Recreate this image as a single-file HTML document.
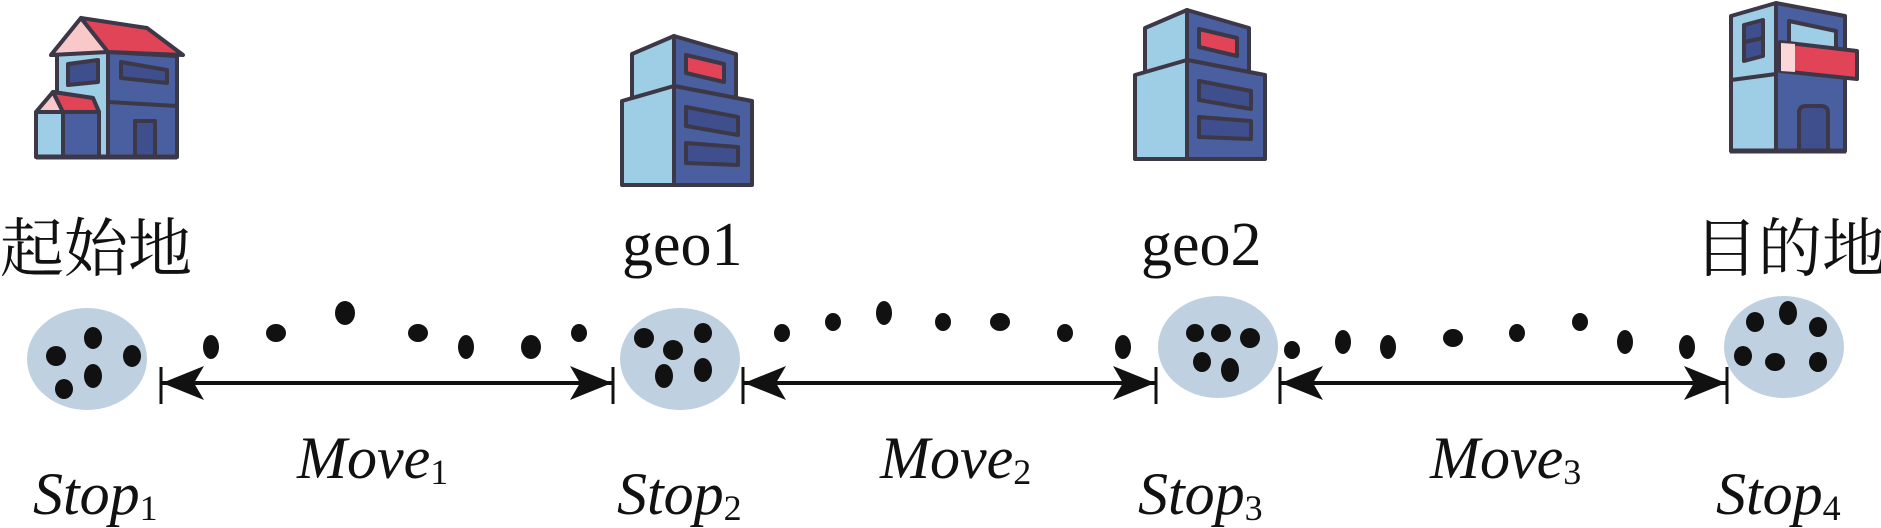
<!DOCTYPE html>
<html><head><meta charset="utf-8"><style>
html,body{margin:0;padding:0;background:#fff;}
body{width:1881px;height:521px;overflow:hidden;position:relative;}
.t{position:absolute;font-family:"Liberation Serif","Noto Serif CJK SC",serif;color:#111;white-space:nowrap;line-height:1;}
.i{font-family:"Liberation Serif","DejaVu Serif",serif;font-style:italic;font-size:60px;}
.i sub{font-style:normal;font-size:36px;vertical-align:baseline;position:relative;top:6px;}
.c{font-family:"Liberation Serif","Noto Serif CJK SC","Noto Sans CJK SC",serif;font-size:64px;}
.g{font-size:62px;}
</style></head><body>
<svg width="1881" height="521" style="position:absolute;left:0;top:0" xmlns="http://www.w3.org/2000/svg">
<defs>
<marker id="ah" viewBox="0 0 42 34" refX="42" refY="17" markerWidth="42" markerHeight="34" markerUnits="userSpaceOnUse" orient="auto-start-reverse">
<path d="M0,0 L42,17 L0,34 L10,17 Z" fill="#111"/></marker>
<g id="tower" stroke="#3d3848" stroke-width="4" stroke-linejoin="round">
<polygon points="632,54 674,36 674,90 632,103" fill="#9ecde6"/>
<polygon points="674,36 736,54 736,98 674,86" fill="#4a5f9f"/>
<polygon points="686,55 724,64 724,82 686,73" fill="#e24457"/>
<polygon points="622,101 674,86 674,185 622,185" fill="#9ecde6"/>
<polygon points="674,86 752,101 752,185 674,185" fill="#4a5f9f"/>
<polygon points="686,107 738,117 738,135 686,126" fill="#3f4e8c"/>
<polygon points="686,143 738,147 738,165 686,163" fill="#3f4e8c"/>
</g>
</defs>
<g stroke="#3d3848" stroke-width="4" stroke-linejoin="round">
<polygon points="51,55 81,18 108,52 108,157 57,157 57,55" fill="#9ecde6"/>
<polygon points="108,52 177,56 177,157 108,157" fill="#4a5f9f"/>
<polygon points="51,55 81,18 108,52" fill="#f9c9c9"/>
<polygon points="81,18 147,28 183,55 108,52" fill="#e24457"/>
<polygon points="68,64 98,60 98,82 68,85" fill="#3f4e8c"/>
<polygon points="121,62 167,70 167,83 121,78" fill="#3f4e8c"/>
<line x1="108" y1="102" x2="177" y2="106"/>
<polygon points="36,112 53,92 93,98 99,112 99,157 36,157" fill="#9ecde6"/>
<polygon points="63,112 99,112 99,157 63,157" fill="#4a5f9f"/>
<polygon points="36,112 53,92 63,112" fill="#f9c9c9"/>
<polygon points="53,92 93,98 99,112 63,112" fill="#e24457"/>
<rect x="135" y="121" width="20" height="36" fill="#3f4e8c"/>
<line x1="36" y1="157" x2="177" y2="157" stroke-width="5"/>
</g>
<use href="#tower"/>
<use href="#tower" transform="translate(513,-26)"/>
<g stroke="#3d3848" stroke-width="4" stroke-linejoin="round">
<polygon points="1731,16 1776,3 1776,151 1731,151" fill="#9ecde6"/>
<polygon points="1776,3 1845,16 1845,151 1776,151" fill="#4a5f9f"/>
<line x1="1731" y1="80" x2="1776" y2="74"/>
<polygon points="1744,25 1763,20 1763,56 1744,61" fill="#3f4e8c"/>
<line x1="1744" y1="42" x2="1763" y2="38"/>
<polygon points="1789,21 1836,31 1836,50 1789,44" fill="#9ecde6"/>
<polygon points="1780,42 1857,51 1857,79 1780,71" fill="#e24457"/>
<polygon points="1781,43 1795,44 1795,72 1781,71" fill="#fbd7d7" stroke="none"/>
<path d="M1799,151 L1799,113 Q1799,106 1806,106 L1821,106 Q1828,106 1828,113 L1828,151" fill="#3f4e8c"/>
<line x1="1730" y1="151" x2="1846" y2="151" stroke-width="5"/>
</g>
<g fill="#bfd1e0">
<ellipse cx="87" cy="359" rx="60" ry="51"/>
<ellipse cx="680" cy="359" rx="60" ry="51"/>
<ellipse cx="1218" cy="347" rx="60" ry="51"/>
<ellipse cx="1784" cy="347" rx="60" ry="51"/>
</g>
<g fill="#111">
<ellipse cx="93" cy="338" rx="9" ry="11"/><ellipse cx="56" cy="356" rx="10" ry="10"/><ellipse cx="132" cy="356" rx="9" ry="11"/><ellipse cx="93" cy="376" rx="9" ry="12"/><ellipse cx="64" cy="389" rx="9" ry="10"/>
<ellipse cx="644" cy="338" rx="10" ry="10"/><ellipse cx="703" cy="333" rx="9" ry="10"/><ellipse cx="673" cy="350" rx="10" ry="10"/><ellipse cx="664" cy="376" rx="9" ry="12"/><ellipse cx="703" cy="370" rx="9" ry="12"/>
<ellipse cx="1195" cy="333" rx="9" ry="9"/><ellipse cx="1221" cy="333" rx="10" ry="9"/><ellipse cx="1250" cy="338" rx="10" ry="10"/><ellipse cx="1202" cy="362" rx="9" ry="10"/><ellipse cx="1230" cy="370" rx="9" ry="12"/>
<ellipse cx="1755" cy="322" rx="9" ry="10"/><ellipse cx="1788" cy="313" rx="9" ry="12"/><ellipse cx="1818" cy="327" rx="9" ry="10"/><ellipse cx="1743" cy="356" rx="9" ry="10"/><ellipse cx="1775" cy="362" rx="10" ry="9"/><ellipse cx="1818" cy="362" rx="9" ry="10"/>
<ellipse cx="211" cy="347" rx="8" ry="12"/><ellipse cx="276" cy="333" rx="10" ry="9"/><ellipse cx="345" cy="313" rx="10" ry="12"/><ellipse cx="418" cy="333" rx="10" ry="9"/><ellipse cx="466" cy="347" rx="8" ry="12"/><ellipse cx="531" cy="347" rx="10" ry="12"/><ellipse cx="579" cy="333" rx="8" ry="9"/>
<ellipse cx="782" cy="333" rx="8" ry="9"/><ellipse cx="833" cy="322" rx="8" ry="9"/><ellipse cx="884" cy="313" rx="8" ry="12"/><ellipse cx="943" cy="322" rx="8" ry="9"/><ellipse cx="1000" cy="322" rx="10" ry="9"/><ellipse cx="1065" cy="333" rx="8" ry="9"/><ellipse cx="1123" cy="347" rx="8" ry="12"/>
<ellipse cx="1292" cy="350" rx="8" ry="9"/><ellipse cx="1343" cy="342" rx="8" ry="12"/><ellipse cx="1388" cy="347" rx="8" ry="12"/><ellipse cx="1453" cy="338" rx="10" ry="9"/><ellipse cx="1517" cy="333" rx="8" ry="9"/><ellipse cx="1580" cy="322" rx="8" ry="9"/><ellipse cx="1625" cy="342" rx="8" ry="12"/><ellipse cx="1687" cy="347" rx="8" ry="12"/>
</g>
<g stroke="#111" stroke-width="4">
<line x1="161" y1="367" x2="161" y2="404" stroke-width="3"/><line x1="613" y1="367" x2="613" y2="404" stroke-width="3"/>
<line x1="743" y1="367" x2="743" y2="404" stroke-width="3"/><line x1="1156" y1="367" x2="1156" y2="404" stroke-width="3"/>
<line x1="1280" y1="367" x2="1280" y2="404" stroke-width="3"/><line x1="1727" y1="367" x2="1727" y2="404" stroke-width="3"/>
<line x1="162" y1="383" x2="612" y2="383" marker-start="url(#ah)" marker-end="url(#ah)"/>
<line x1="744" y1="383" x2="1155" y2="383" marker-start="url(#ah)" marker-end="url(#ah)"/>
<line x1="1281" y1="383" x2="1726" y2="383" marker-start="url(#ah)" marker-end="url(#ah)"/>
</g>
</svg>
<div class="t c" style="left:0;top:218px;">起始地</div>
<div class="t g" style="left:622px;top:214px;">geo1</div>
<div class="t g" style="left:1141px;top:214px;">geo2</div>
<div class="t c" style="left:1694px;top:218px;">目的地</div>
<div class="t i" style="left:297px;top:428px;">Move<sub>1</sub></div>
<div class="t i" style="left:880px;top:428px;">Move<sub>2</sub></div>
<div class="t i" style="left:1430px;top:428px;">Move<sub>3</sub></div>
<div class="t i" style="left:33px;top:464px;">Stop<sub>1</sub></div>
<div class="t i" style="left:617px;top:464px;">Stop<sub>2</sub></div>
<div class="t i" style="left:1138px;top:464px;">Stop<sub>3</sub></div>
<div class="t i" style="left:1716px;top:464px;">Stop<sub>4</sub></div>
</body></html>
